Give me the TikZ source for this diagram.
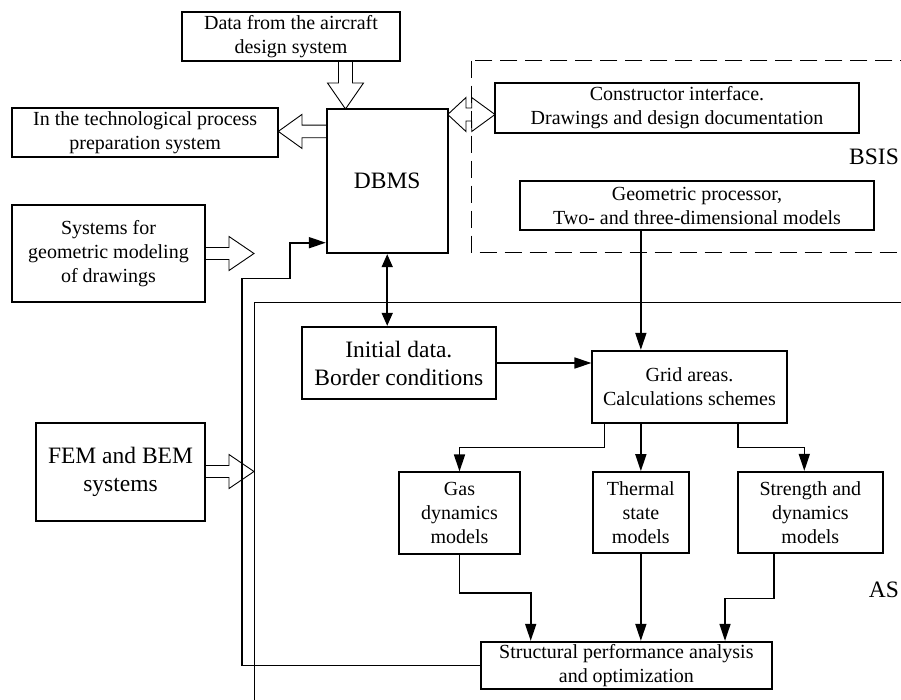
\documentclass[tikz,border=0pt]{standalone}
\usepackage{fontspec}
\setmainfont{Liberation Serif}
\usetikzlibrary{arrows.meta,calc}
\newcommand\txtS{\fontsize{20}{24}\selectfont}
\newcommand\txtL{\fontsize{23.5}{28}\selectfont}
\begin{document}
\begin{tikzpicture}[x=1pt,y=-1pt,
  box/.style={draw, line width=1.7pt, fill=white, inner sep=0pt, align=center, font=\txtS},
  bigbox/.style={box, font=\txtL},
  conn/.style={line width=1.6pt, -{Triangle[length=17pt,width=11pt]}},
  dconn/.style={line width=1.6pt, {Triangle[length=13pt,width=11pt]}-{Triangle[length=13pt,width=11pt]}},
  hollow/.style={draw, line width=0.9pt, fill=white, line join=miter},
  area/.style={draw, line width=0.9pt},
  zone/.style={draw, line width=1.2pt, dash pattern=on 17pt off 8pt},
  tag/.style={font=\txtL, inner sep=0pt}]
\useasboundingbox (0,0) rectangle (901,699);
\clip (0,0) rectangle (901,699);

% application subsystem frame (AS)
\draw[area] (254,302.7) rectangle (950,760);

% block arrows between the external systems and the DBMS
\draw[hollow] (338.5,61) -- (338.5,83) -- (327.5,83) -- (345.5,109) -- (363.5,83) -- (352.5,83) -- (352.5,61);
\draw[hollow] (326.7,125.1) -- (302,125.1) -- (302,114.4) -- (278.3,131.4) -- (302,148.4) -- (302,137.7) -- (326.7,137.7);
\draw[hollow] (205,247.5) -- (229,247.5) -- (229,236.5) -- (254,253.5) -- (229,270.5) -- (229,259.5) -- (205,259.5);
\draw[hollow] (205,465.5) -- (229,465.5) -- (229,454.5) -- (254,471.5) -- (229,488.5) -- (229,477.5) -- (205,477.5);
\draw[hollow] (447.7,114.5) -- (466,97.5) -- (466,108) -- (471.7,108) -- (471.7,97.5) -- (495,114.5)
  -- (471.7,131.5) -- (471.7,121) -- (466,121) -- (466,131.5) -- cycle;

% basic subsystem frame (BSIS)
\draw[zone] (471.7,60.7) rectangle (940,252.7);

% blocks
\node[box, minimum width=218pt, minimum height=49pt] (data) at (291,36.5) {Data from the aircraft\\design system};
\node[box, minimum width=266.3pt, minimum height=49pt] (tech) at (145.15,132.8) {In the technological process\\preparation system};
\node[bigbox, minimum width=121pt, minimum height=144.3pt] (dbms) at (387.2,181.15) {DBMS};
\node[box, minimum width=364pt, minimum height=50pt] (ctor) at (677,108) {Constructor interface.\\Drawings and design documentation};
\node[box, minimum width=354pt, minimum height=49pt] (geo) at (697,205.5) {Geometric processor,\\Two- and three-dimensional models};
\node[box, minimum width=193pt, minimum height=97pt] (sys) at (108.5,253.5) {Systems for\\geometric modeling\\of drawings};
\node[bigbox, minimum width=169pt, minimum height=98pt] (fem) at (120.5,472) {FEM and BEM\\systems};
\node[bigbox, minimum width=194.3pt, minimum height=72.6pt] (init) at (398.85,363) {Initial data.\\Border conditions};
\node[box, minimum width=194.4pt, minimum height=72.6pt] (grid) at (689.5,387) {Grid areas.\\Calculations schemes};
\node[box, minimum width=121pt, minimum height=82pt] (gas) at (459.5,513.3) {Gas\\dynamics\\models};
\node[box, minimum width=96.3pt, minimum height=81pt] (therm) at (640.85,512.5) {Thermal\\state\\models};
\node[box, minimum width=145.3pt, minimum height=81.3pt] (str) at (810.35,512.35) {Strength and\\dynamics\\models};
\node[box, minimum width=290.7pt, minimum height=47.6pt] (sp) at (626.35,665.5) {Structural performance analysis\\and optimization};

\node[tag] (bsis) at (874,157) {BSIS};
\node[tag] (as) at (884,590) {AS};

% bend points of the connectors
\coordinate (ka) at (604.3,447.3);
\coordinate (kb) at (737.7,447.3);
\coordinate (kc) at (804.3,447.3);
\coordinate (ke) at (530.7,593);
\coordinate (kf) at (774,598.3);
\coordinate (kg) at (725,598.3);
\coordinate (fa) at (242,278.3);
\coordinate (fb) at (290,242.7);

% connectors
\draw[conn] (geo.south -| therm) -- (grid.north -| therm);
\draw[dconn] (dbms.south) -- (dbms.south |- init.north);
\draw[conn] (init.east) -- (init.east -| grid.west);
\draw[conn] (grid.south -| ka) -- (ka) -| (gas.north);
\draw[conn] (grid.south -| therm) -- (therm.north);
\draw[conn] (grid.south -| kb) -- (kb) -- (kc) -- (kc |- str.north);
\draw[conn] (gas.south) |- (ke) -- (ke |- sp.north);
\draw[conn] (therm.south) -- (therm.south |- sp.north);
\draw[conn] (str.south -| kf) -- (kf) -- (kg) -- (kg |- sp.north);
\draw[conn] (sp.west) -| (fa) -- (fa -| fb) -- (fb) -- (fb -| dbms.west);
\end{tikzpicture}
\end{document}
